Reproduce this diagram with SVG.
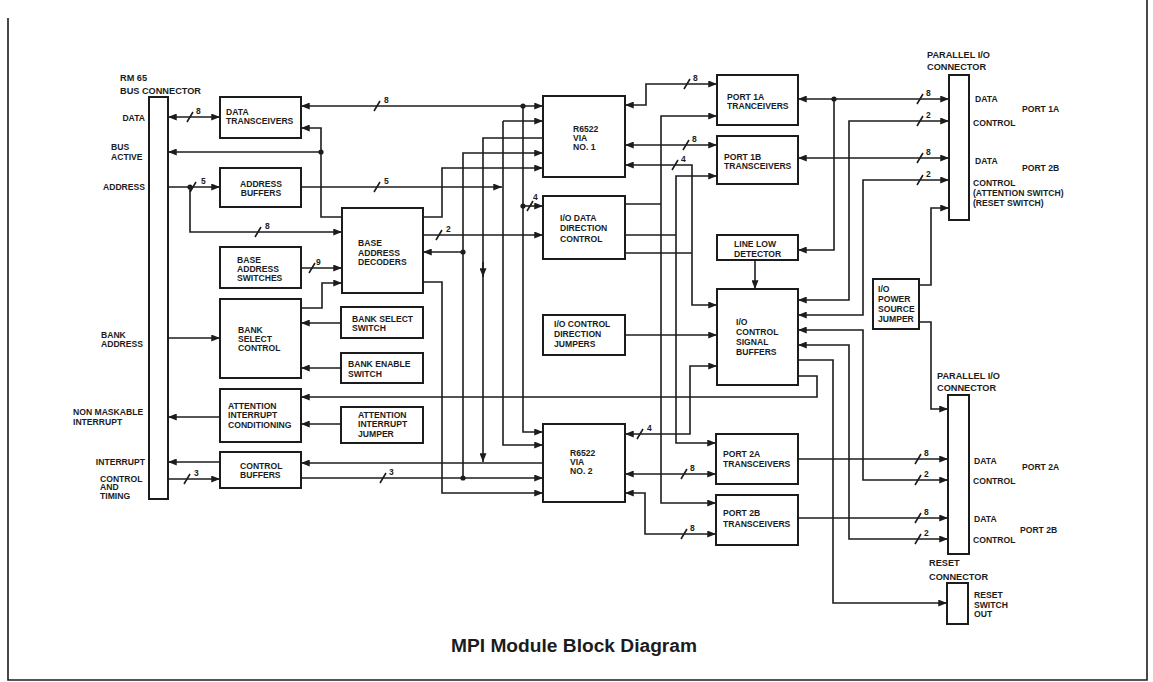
<svg xmlns="http://www.w3.org/2000/svg" width="1153" height="682" viewBox="0 0 1153 682">
<style>
.bx{fill:none;stroke:#1c1c1c;stroke-width:2}
.ln{fill:none;stroke:#1c1c1c;stroke-width:1.6}
.a1{marker-end:url(#ar)}
.a2{marker-start:url(#ar);marker-end:url(#ar)}
.t{font-family:"Liberation Sans",Arial,sans-serif;font-weight:bold;font-size:8.6px;fill:#1c1c1c}
.l{font-size:9.2px}
.n{font-family:"Liberation Sans",Arial,sans-serif;font-weight:bold;font-size:8.5px;fill:#1c1c1c}
.dot{fill:#1c1c1c}
</style>
<defs>
<marker id="ar" viewBox="0 0 10 8" refX="10" refY="4" markerWidth="9" markerHeight="7" markerUnits="userSpaceOnUse" orient="auto-start-reverse">
<path d="M0,0 L10,4 L0,8 z" fill="#1c1c1c"/>
</marker>
</defs>
<rect width="1153" height="682" fill="#ffffff"/>
<path d="M8,18 V680 H1147 V0" fill="none" stroke="#1c1c1c" stroke-width="1.6"/>

<g id="bus-connector">
<rect class="bx" x="149" y="97" width="19" height="402"/>
<text class="t l" x="120" y="81">RM 65</text>
<text class="t l" x="120" y="94">BUS CONNECTOR</text>
<text class="t" x="145" y="121" text-anchor="end">DATA</text>
<text class="t" x="111" y="150">BUS</text>
<text class="t" x="111" y="160">ACTIVE</text>
<text class="t" x="145" y="190" text-anchor="end">ADDRESS</text>
<text class="t" x="101" y="338">BANK</text>
<text class="t" x="101" y="347">ADDRESS</text>
<text class="t" x="73" y="415">NON MASKABLE</text>
<text class="t" x="73" y="425">INTERRUPT</text>
<text class="t" x="145" y="465" text-anchor="end">INTERRUPT</text>
<text class="t" x="100" y="482">CONTROL</text>
<text class="t" x="100" y="490">AND</text>
<text class="t" x="100" y="499">TIMING</text>
</g>

<g id="data-transceivers">
<rect class="bx" x="220" y="97" width="81" height="41"/>
<text class="t" x="226" y="115">DATA</text>
<text class="t" x="226" y="124">TRANSCEIVERS</text>
</g>
<g id="address-buffers">
<rect class="bx" x="220" y="168" width="81" height="39"/>
<text class="t" x="261" y="187" text-anchor="middle">ADDRESS</text>
<text class="t" x="261" y="196" text-anchor="middle">BUFFERS</text>
</g>
<g id="base-address-switches">
<rect class="bx" x="220" y="247" width="81" height="41"/>
<text class="t" x="237" y="263">BASE</text>
<text class="t" x="237" y="272">ADDRESS</text>
<text class="t" x="237" y="281">SWITCHES</text>
</g>
<g id="bank-select-control">
<rect class="bx" x="220" y="299" width="81" height="79"/>
<text class="t" x="238" y="333">BANK</text>
<text class="t" x="238" y="342">SELECT</text>
<text class="t" x="238" y="351">CONTROL</text>
</g>
<g id="attention-interrupt-conditioning">
<rect class="bx" x="220" y="389" width="81" height="53"/>
<text class="t" x="228" y="409">ATTENTION</text>
<text class="t" x="228" y="418">INTERRUPT</text>
<text class="t" x="228" y="428">CONDITIONING</text>
</g>
<g id="control-buffers">
<rect class="bx" x="220" y="452" width="81" height="36"/>
<text class="t" x="240" y="469">CONTROL</text>
<text class="t" x="240" y="478">BUFFERS</text>
</g>
<g id="base-address-decoders">
<rect class="bx" x="342" y="208" width="81" height="85"/>
<text class="t" x="358" y="246">BASE</text>
<text class="t" x="358" y="256">ADDRESS</text>
<text class="t" x="358" y="265">DECODERS</text>
</g>
<g id="bank-select-switch">
<rect class="bx" x="341" y="307" width="82" height="31"/>
<text class="t" x="352" y="322">BANK SELECT</text>
<text class="t" x="352" y="331">SWITCH</text>
</g>
<g id="bank-enable-switch">
<rect class="bx" x="341" y="353" width="82" height="30"/>
<text class="t" x="348" y="367">BANK ENABLE</text>
<text class="t" x="348" y="377">SWITCH</text>
</g>
<g id="attention-interrupt-jumper">
<rect class="bx" x="341" y="407" width="82" height="36"/>
<text class="t" x="358" y="418">ATTENTION</text>
<text class="t" x="358" y="427">INTERRUPT</text>
<text class="t" x="358" y="437">JUMPER</text>
</g>
<g id="via-1">
<rect class="bx" x="543" y="96" width="82" height="81"/>
<text class="t" x="573" y="132">R6522</text>
<text class="t" x="573" y="141">VIA</text>
<text class="t" x="573" y="150">NO. 1</text>
</g>
<g id="io-data-direction-control">
<rect class="bx" x="543" y="196" width="82" height="63"/>
<text class="t" x="560" y="221">I/O DATA</text>
<text class="t" x="560" y="231">DIRECTION</text>
<text class="t" x="560" y="242">CONTROL</text>
</g>
<g id="io-control-direction-jumpers">
<rect class="bx" x="543" y="315" width="82" height="40"/>
<text class="t" x="554" y="327">I/O CONTROL</text>
<text class="t" x="554" y="337">DIRECTION</text>
<text class="t" x="554" y="347">JUMPERS</text>
</g>
<g id="via-2">
<rect class="bx" x="543" y="424" width="82" height="78"/>
<text class="t" x="570" y="456">R6522</text>
<text class="t" x="570" y="465">VIA</text>
<text class="t" x="570" y="474">NO. 2</text>
</g>
<g id="port-1a-transceivers">
<rect class="bx" x="717" y="75" width="81" height="50"/>
<text class="t" x="727" y="100">PORT 1A</text>
<text class="t" x="727" y="109">TRANCEIVERS</text>
</g>
<g id="port-1b-transceivers">
<rect class="bx" x="717" y="136" width="81" height="48"/>
<text class="t" x="724" y="160">PORT 1B</text>
<text class="t" x="724" y="169">TRANSCEIVERS</text>
</g>
<g id="line-low-detector">
<rect class="bx" x="717" y="235" width="81" height="25"/>
<text class="t" x="734" y="247">LINE LOW</text>
<text class="t" x="734" y="257">DETECTOR</text>
</g>
<g id="io-control-signal-buffers">
<rect class="bx" x="717" y="289" width="81" height="96"/>
<text class="t" x="736" y="325">I/O</text>
<text class="t" x="736" y="335">CONTROL</text>
<text class="t" x="736" y="345">SIGNAL</text>
<text class="t" x="736" y="355">BUFFERS</text>
</g>
<g id="port-2a-transceivers">
<rect class="bx" x="716" y="434" width="82" height="50"/>
<text class="t" x="723" y="457">PORT 2A</text>
<text class="t" x="723" y="467">TRANSCEIVERS</text>
</g>
<g id="port-2b-transceivers">
<rect class="bx" x="716" y="495" width="82" height="50"/>
<text class="t" x="723" y="516">PORT 2B</text>
<text class="t" x="723" y="527">TRANSCEIVERS</text>
</g>
<g id="io-power-source-jumper">
<rect class="bx" x="873" y="279" width="46" height="50"/>
<text class="t" x="878" y="292">I/O</text>
<text class="t" x="878" y="302">POWER</text>
<text class="t" x="878" y="312">SOURCE</text>
<text class="t" x="878" y="322">JUMPER</text>
</g>
<g id="parallel-io-connector-1">
<rect class="bx" x="949" y="75" width="20" height="145"/>
<text class="t l" x="927" y="58">PARALLEL I/O</text>
<text class="t l" x="927" y="70">CONNECTOR</text>
<text class="t" x="975" y="102">DATA</text>
<text class="t" x="1022" y="112">PORT 1A</text>
<text class="t" x="973" y="126">CONTROL</text>
<text class="t" x="975" y="164">DATA</text>
<text class="t" x="1022" y="171">PORT 2B</text>
<text class="t" x="973" y="186">CONTROL</text>
<text class="t" x="973" y="196">(ATTENTION SWITCH)</text>
<text class="t" x="973" y="206">(RESET SWITCH)</text>
</g>
<g id="parallel-io-connector-2">
<rect class="bx" x="948" y="395" width="21" height="159"/>
<text class="t l" x="937" y="379">PARALLEL I/O</text>
<text class="t l" x="937" y="391">CONNECTOR</text>
<text class="t" x="974" y="464">DATA</text>
<text class="t" x="1022" y="470">PORT 2A</text>
<text class="t" x="973" y="484">CONTROL</text>
<text class="t" x="974" y="522">DATA</text>
<text class="t" x="1020" y="533">PORT 2B</text>
<text class="t" x="973" y="543">CONTROL</text>
</g>
<g id="reset-connector">
<rect class="bx" x="947" y="583" width="21" height="41"/>
<text class="t l" x="929" y="566">RESET</text>
<text class="t l" x="929" y="580">CONNECTOR</text>
<text class="t" x="974" y="598">RESET</text>
<text class="t" x="974" y="608">SWITCH</text>
<text class="t" x="974" y="617">OUT</text>
</g>

<g id="connectors">
<path class="ln a2" d="M168,117 H220"/>
<path class="ln a1" d="M321,152 H168"/>
<path class="ln a1" d="M342,217 H321 V128 H301"/>
<path class="ln a2" d="M301,106 H543"/>
<path class="ln a1" d="M168,187 H220"/>
<path class="ln a1" d="M190,187 V232 H342"/>
<path class="ln a1" d="M301,187 H502"/>
<path class="ln a1" d="M423,217 H442 V168 H543"/>
<path class="ln a1" d="M463,478 V153 H543"/>
<path class="ln a1" d="M543,138 H483 V462"/>
<path class="ln a1" d="M483,262 V277"/>
<path class="ln a1" d="M503,121 H543"/>
<path class="ln a1" d="M503,121 V445 H543"/>
<path class="ln a1" d="M523,106 V432 H543"/>
<path class="ln a1" d="M523,206 H543"/>
<path class="ln a1" d="M423,235 H543"/>
<path class="ln a1" d="M463,252 H423"/>
<path class="ln a1" d="M301,268 H342"/>
<path class="ln a1" d="M301,308 H322 V283 H342"/>
<path class="ln a1" d="M423,282 H442 V493 H543"/>
<path class="ln a1" d="M168,338 H220"/>
<path class="ln a1" d="M341,323 H301"/>
<path class="ln a1" d="M341,368 H301"/>
<path class="ln a1" d="M220,417 H168"/>
<path class="ln a1" d="M341,424 H301"/>
<path class="ln a1" d="M798,376 H817 V397 H301"/>
<path class="ln a1" d="M220,462 H168"/>
<path class="ln a1" d="M168,479 H220"/>
<path class="ln a1" d="M543,463 H301"/>
<path class="ln a1" d="M301,478 H543"/>
<path class="ln a2" d="M625,105 H646 V84 H717"/>
<path class="ln" d="M625,204 H661"/>
<path class="ln a2" d="M717,116 H661 V503 H716"/>
<path class="ln a2" d="M625,145 H717"/>
<path class="ln a2" d="M625,165 H692 V305 H717"/>
<path class="ln" d="M625,235 H676"/>
<path class="ln a2" d="M717,176 H676 V443 H716"/>
<path class="ln" d="M625,253 H692"/>
<path class="ln a1" d="M625,335 H717"/>
<path class="ln a2" d="M625,434 H690 V366 H717"/>
<path class="ln a2" d="M625,474 H716"/>
<path class="ln a2" d="M625,493 H645 V534 H716"/>
<path class="ln a1" d="M755,260 V289"/>
<path class="ln a2" d="M798,99 H949"/>
<path class="ln a1" d="M834,99 V250 H798"/>
<path class="ln a2" d="M949,121 H849 V300 H798"/>
<path class="ln a2" d="M798,158 H949"/>
<path class="ln a2" d="M949,180 H863 V315 H798"/>
<path class="ln a1" d="M919,285 H931 V208 H949"/>
<path class="ln a1" d="M919,322 H931 V409 H948"/>
<path class="ln a2" d="M798,330 H863 V480 H948"/>
<path class="ln a2" d="M798,345 H849 V539 H948"/>
<path class="ln a1" d="M798,459 H948"/>
<path class="ln a1" d="M798,518 H948"/>
<path class="ln a1" d="M798,360 H833 V603 H947"/>
<path class="ln" d="M187,122 l6,-10 M190,192 l6,-10 M255,237 l6,-10 M374,111 l6,-10 M374,192 l6,-10 M436,240 l6,-10 M527,211 l6,-10 M309,273 l6,-10 M184,484 l6,-10 M380,483 l6,-10 M684,89 l6,-10 M683,150 l6,-10 M672,170 l6,-10 M637,439 l6,-10 M681,479 l6,-10 M681,539 l6,-10 M917,104 l6,-10 M917,126 l6,-10 M917,163 l6,-10 M917,185 l6,-10 M915,464 l6,-10 M915,485 l6,-10 M915,523 l6,-10 M915,544 l6,-10"/>
<circle class="dot" cx="321" cy="152" r="2.6"/>
<circle class="dot" cx="523" cy="106" r="2.6"/>
<circle class="dot" cx="190" cy="187" r="2.6"/>
<circle class="dot" cx="523" cy="206" r="2.6"/>
<circle class="dot" cx="463" cy="252" r="2.6"/>
<circle class="dot" cx="463" cy="478" r="2.6"/>
<circle class="dot" cx="834" cy="99" r="2.6"/>
<text class="n" x="196" y="114">8</text>
<text class="n" x="201" y="184">5</text>
<text class="n" x="265" y="229">8</text>
<text class="n" x="384" y="103">8</text>
<text class="n" x="384" y="184">5</text>
<text class="n" x="446" y="232">2</text>
<text class="n" x="533" y="200">4</text>
<text class="n" x="316" y="265">9</text>
<text class="n" x="194" y="476">3</text>
<text class="n" x="389" y="475">3</text>
<text class="n" x="693" y="81">8</text>
<text class="n" x="692" y="142">8</text>
<text class="n" x="681" y="162">4</text>
<text class="n" x="647" y="431">4</text>
<text class="n" x="690" y="471">8</text>
<text class="n" x="690" y="531">8</text>
<text class="n" x="926" y="96">8</text>
<text class="n" x="926" y="118">2</text>
<text class="n" x="926" y="155">8</text>
<text class="n" x="926" y="177">2</text>
<text class="n" x="924" y="456">8</text>
<text class="n" x="924" y="477">2</text>
<text class="n" x="924" y="515">8</text>
<text class="n" x="924" y="536">2</text>
</g>

<text x="451" y="652" font-family="'Liberation Sans',Arial,sans-serif" font-weight="bold" font-size="18" textLength="246" lengthAdjust="spacingAndGlyphs" fill="#1c1c1c">MPI Module Block Diagram</text>
</svg>
